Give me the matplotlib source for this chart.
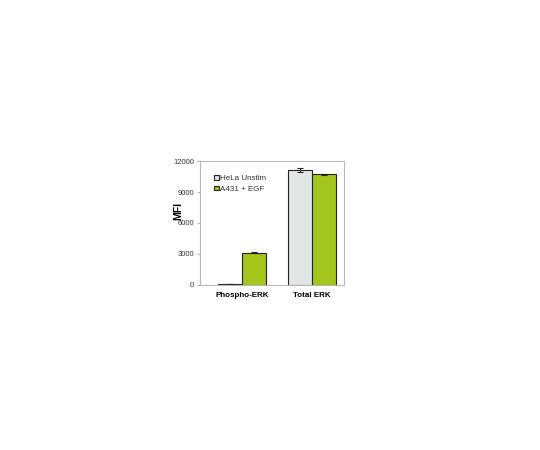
import numpy as np
import matplotlib
matplotlib.use("Agg")
import matplotlib.pyplot as plt

plt.rcParams['font.family'] = ['Liberation Sans', 'DejaVu Sans']

groups = ["Phospho-ERK", "Total ERK"]
series_names = ["HeLa Unstim", "A431 + EGF"]
hela_vals = [40, 11100]
hela_err = [0, 200]
a431_vals = [3120, 10720]
a431_err = [30, 60]
yticks = [0, 3000, 6000, 9000, 12000]

gray_col = "#e4e6e6"
green_col = "#a4c51c"

fig = plt.figure(figsize=(5.4, 4.5), dpi=100)
ax = fig.add_axes([0.370, 0.367, 0.267, 0.275])

x = np.arange(len(groups))
w = 0.34
ax.bar(x - w/2, hela_vals, w, color=gray_col, edgecolor="#222222", linewidth=0.8,
       yerr=hela_err, error_kw=dict(ecolor="#222222", elinewidth=0.8, capsize=2, capthick=0.8),
       label=series_names[0])
ax.bar(x + w/2, a431_vals, w, color=green_col, edgecolor="#222222", linewidth=0.8,
       yerr=a431_err, error_kw=dict(ecolor="#222222", elinewidth=0.8, capsize=2, capthick=0.8),
       label=series_names[1])

ax.set_xlim(-0.6, 1.46)
ax.set_ylim(0, 12000)
ax.set_yticks(yticks)
ax.set_yticklabels([str(v) for v in yticks], fontsize=5.5, color="#333333")
ax.set_xticks(x)
ax.set_xticklabels(groups, fontsize=5.8, fontweight="bold")
ax.tick_params(axis="x", length=0, pad=5)
ax.tick_params(axis="y", length=2, width=0.6, color="#aaaaaa", pad=2)
ax.set_ylabel("MFI", fontsize=7.5, fontweight="bold")
ax.yaxis.set_label_coords(-0.118, 0.6)
for s in ax.spines.values():
    s.set_color("#b8b8b8")
    s.set_linewidth(0.8)

leg = ax.legend(loc="upper left", bbox_to_anchor=(0.1, 0.89), frameon=False, fontsize=5.8,
                handlelength=0.55, handleheight=0.55, handletextpad=0.2, labelspacing=0.45,
                borderaxespad=0, borderpad=0)
for t in leg.get_texts():
    t.set_color("#333333")

fig.savefig("out.png", dpi=100)
